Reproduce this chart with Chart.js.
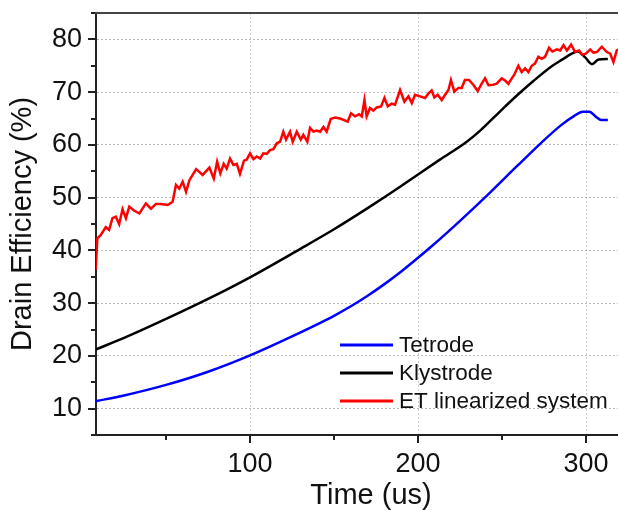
<!DOCTYPE html>
<html><head><meta charset="utf-8">
<script src="https://cdn.jsdelivr.net/npm/chart.js@4.4.0/dist/chart.umd.min.js"></script>
<style>html,body{margin:0;padding:0;background:#fff;overflow:hidden;}#wrap{width:618px;height:510px;overflow:hidden;}</style>
</head><body><div id="wrap"><canvas id="c" width="646" height="510"></canvas></div>
<script>
// ---- data ----
const seriesNames = ['Tetrode', 'Klystrode', 'ET linearized system'];
const seriesColors = ['#0000ff', '#000000', '#ff0000'];

const tetrodeTime = [8, 25, 50, 75, 100, 125, 150, 160, 170, 180, 190, 200, 210, 225, 243, 259, 273, 285, 293, 298, 302, 306, 309, 313];
const tetrodeEff  = [11.4, 12.5, 14.5, 17.0, 20.1, 23.7, 27.6, 29.4, 31.4, 33.6, 36.0, 38.6, 41.3, 45.6, 51.0, 56.0, 60.3, 63.7, 65.5, 66.3, 66.3, 65.3, 64.7, 64.7];

const klystrodeTime = [8, 25, 50, 75, 100, 130, 150, 170, 190, 200, 213, 229, 237, 249, 259, 269, 280, 286, 291, 295, 299.5, 303.5, 307.5, 313];
const klystrodeEff  = [21.2, 23.4, 27.0, 30.8, 34.9, 40.3, 44.0, 48.0, 52.2, 54.4, 57.2, 60.6, 62.7, 66.4, 69.4, 72.2, 75.0, 76.2, 77.2, 77.7, 76.6, 75.3, 76.2, 76.3];

const etTime = [8.1, 9.1, 11.1, 14.1, 16.1, 18.1, 20.1, 22.1, 24.1, 26.1, 28.1, 31.1, 34.1, 38.0, 41.0, 44.0, 47.0, 51.0, 53.9, 55.9, 57.9, 59.9, 61.9, 63.9, 67.9, 71.8, 75.8, 78.4, 80.4, 82.3, 84.3,
  86.1, 88.1, 90.1, 92.1, 94.0, 96.4, 98.0, 100, 102, 104, 106, 107.9, 109.9, 111.9, 113.9, 115.9, 117.9, 119.8, 121.4, 123.8, 125.4, 127.8, 130.2, 131.7, 134.1, 135.7, 137.7, 139.7, 141.7, 143.7, 145.6, 148.0, 150.6, 153.6, 156.0,
  158.1, 160.1, 162.5, 164.9, 166.5, 168.1, 169.4, 171.4, 173.4, 175.4, 178.0, 180.0, 182.0, 184.3, 186.3, 189.3, 191.9, 194.3, 196.3, 198.2, 201.2, 204.2, 206.1, 208.1, 209.7, 211.7, 214.1, 216.1, 218.1, 219.6, 221.6, 224.0, 226.0, 227.9, 230.3, 232.9,
  235.5, 237.9, 239.9, 241.9, 244.8, 246.8, 249.8, 251.8, 253.8, 255.8, 257.3, 259.7, 261.7, 263.7, 265.7, 267.7, 269.6, 271.6, 273.6, 275.6, 278.0, 280.0, 282.6, 284.6, 286.6, 288.6, 291.1, 293.5, 295.9, 297.5, 299.9, 302.5, 304.4, 306.4, 309.4, 312.4, 314.4, 316.3, 318.3, 320];
const etEff = [36.3, 42.3, 42.9, 44.4, 43.9, 46.1, 46.4, 45.0, 47.8, 46.1, 48.3, 47.5, 47.0, 48.9, 47.9, 48.8, 48.8, 48.6, 49.2, 52.4, 51.7, 53.0, 51.1, 53.3, 55.4, 54.3, 55.7, 53.6, 56.8, 54.6, 56.4,
  55.5, 57.4, 56.2, 56.4, 54.5, 57.0, 57.2, 58.4, 57.3, 57.8, 57.4, 58.4, 58.3, 59.0, 59.2, 60.3, 60.6, 62.5, 61.0, 62.5, 60.6, 62.5, 61.0, 61.9, 60.6, 63.2, 62.5, 62.7, 62.5, 63.4, 62.5, 64.9, 65.2, 65.0, 64.7,
  64.4, 66.0, 65.4, 65.8, 65.4, 68.5, 65.4, 67.0, 66.5, 67.1, 67.3, 68.9, 67.3, 67.8, 67.6, 70.4, 68.2, 69.2, 67.9, 69.5, 69.2, 68.9, 69.7, 70.3, 69.0, 69.5, 68.5, 69.5, 70.4, 72.3, 70.1, 70.8, 70.8, 72.3, 72.3, 71.4,
  70.2, 71.6, 72.6, 71.3, 71.4, 71.6, 72.6, 72.2, 71.6, 72.6, 73.3, 75.0, 73.8, 74.5, 73.8, 75.0, 75.4, 76.7, 76.3, 76.7, 78.4, 77.7, 78.1, 77.9, 78.9, 77.9, 79.0, 77.6, 77.9, 77.1, 77.3, 78.1, 77.5, 77.6, 78.6, 77.6, 77.3, 75.7, 77.9, 78.2];

const xTickValues = [50, 100, 150, 200, 250, 300];
const xLabelValues = [100, 200, 300];
const yTickValues = [5, 10, 15, 20, 25, 30, 35, 40, 45, 50, 55, 60, 65, 70, 75, 80, 85];
const yLabelValues = [10, 20, 30, 40, 50, 60, 70, 80];
const xTitle = 'Time (us)';
const yTitle = 'Drain Efficiency (%)';

// ---- build ----
const pts = (xs, ys) => xs.map((x, i) => ({x: x, y: ys[i]}));
const FONT = "'Liberation Sans', Arial, sans-serif";

const decor = {
  id: 'decor',
  afterDraw(chart) {
    const ctx = chart.ctx, a = chart.chartArea;
    const xs = chart.scales.x, ys = chart.scales.y;
    ctx.save();
    ctx.strokeStyle = '#222';
    ctx.lineWidth = 2;
    yTickValues.forEach(v => {
      const p = Math.round(ys.getPixelForValue(v));
      const len = yLabelValues.includes(v) ? 8 : 5;
      ctx.beginPath(); ctx.moveTo(a.left, p); ctx.lineTo(a.left - len, p); ctx.stroke();
    });
    xTickValues.forEach(v => {
      const p = Math.round(xs.getPixelForValue(v));
      const len = xLabelValues.includes(v) ? 8 : 5;
      ctx.beginPath(); ctx.moveTo(p, a.bottom); ctx.lineTo(p, a.bottom + len); ctx.stroke();
    });
    ctx.strokeStyle = '#444';
    ctx.beginPath(); ctx.moveTo(a.left - 1, a.top); ctx.lineTo(a.right, a.top); ctx.stroke();
    // legend
    ctx.font = "22.5px " + FONT;
    ctx.textBaseline = 'middle';
    ctx.textAlign = 'left';
    const offs = [-90, -62, -34];
    chart.data.datasets.forEach((ds, i) => {
      const y = a.bottom + offs[i];
      ctx.strokeStyle = ds.borderColor;
      ctx.lineWidth = 3;
      ctx.beginPath(); ctx.moveTo(a.right - 306, y); ctx.lineTo(a.right - 253, y); ctx.stroke();
      ctx.fillStyle = '#111';
      ctx.fillText(ds.label, a.right - 247, y + 1);
    });
    ctx.restore();
  }
};

new Chart(document.getElementById('c'), {
  type: 'line',
  data: {
    datasets: [
      {label: seriesNames[0], data: pts(tetrodeTime, tetrodeEff), borderColor: seriesColors[0], borderWidth: 2.5, pointRadius: 0, cubicInterpolationMode: 'monotone', order: 2},
      {label: seriesNames[1], data: pts(klystrodeTime, klystrodeEff), borderColor: seriesColors[1], borderWidth: 2.5, pointRadius: 0, cubicInterpolationMode: 'monotone', order: 1},
      {label: seriesNames[2], data: pts(etTime, etEff), borderColor: seriesColors[2], borderWidth: 2.5, pointRadius: 0, tension: 0, order: 0}
    ]
  },
  options: {
    responsive: false,
    animation: false,
    devicePixelRatio: 1,
    layout: {padding: {left: 0, top: 13, right: 0, bottom: 0}},
    plugins: {legend: {display: false}, tooltip: {enabled: false}},
    scales: {
      x: {
        type: 'linear', min: 8.3, max: 335.7,
        afterBuildTicks: s => { s.ticks = xTickValues.map(v => ({value: v})); },
        afterFit: s => { s.height = 75; s.paddingLeft = 0; s.paddingRight = 0; },
        ticks: {
          autoSkip: false, maxRotation: 0, padding: 13, color: '#111',
          font: {family: FONT, size: 27},
          callback: v => xLabelValues.includes(v) ? String(v) : null
        },
        grid: {
          drawTicks: false, lineWidth: 1,
          color: c => (c.tick && xLabelValues.includes(c.tick.value)) ? '#cfcfcf' : 'rgba(0,0,0,0)'
        },
        border: {display: true, color: '#222', width: 2, dash: [2, 2]},
        title: {display: true, text: xTitle, color: '#111', font: {family: FONT, size: 29, lineHeight: 1}, padding: {top: 0, bottom: 0}}
      },
      y: {
        min: 5, max: 85,
        afterBuildTicks: s => { s.ticks = yTickValues.map(v => ({value: v})); },
        afterFit: s => { s.width = 96; s.paddingTop = 0; s.paddingBottom = 0; },
        ticks: {
          autoSkip: false, padding: 14, color: '#111',
          font: {family: FONT, size: 27},
          callback: v => yLabelValues.includes(v) ? String(v) : null
        },
        grid: {
          drawTicks: false, lineWidth: 1,
          color: c => {
            const v = c.tick ? c.tick.value : null;
            if (v === 5 || v === 85) return 'rgba(0,0,0,0)';
            return yLabelValues.includes(v) ? '#b8b8b8' : '#dedede';
          }
        },
        border: {display: true, color: '#222', width: 2, dash: [2, 2]},
        title: {display: true, text: yTitle, color: '#111', font: {family: FONT, size: 29}, padding: {top: 6, bottom: 0}}
      }
    }
  },
  plugins: [decor]
});
</script>
</body></html>
